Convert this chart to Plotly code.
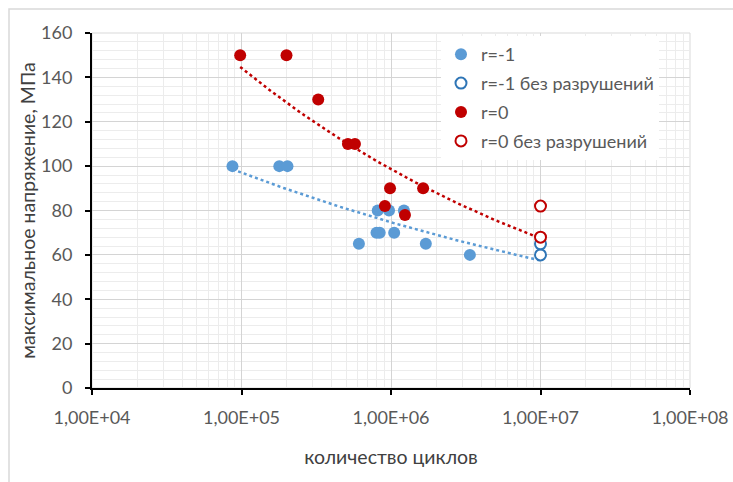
import numpy as np
import plotly.graph_objects as go

# Fatigue test results: number of cycles vs. maximum stress (MPa)
cycles_rm1 = [8.7e4, 1.79e5, 2.03e5, 6.1e5, 8.0e5, 8.4e5, 1.05e6, 8.15e5, 9.7e5, 1.22e6, 1.71e6, 3.37e6]
stress_rm1 = [100, 100, 100, 65, 70, 70, 70, 80, 80, 80, 65, 60]

cycles_rm1_runout = [1e7, 1e7]
stress_rm1_runout = [60, 65]

cycles_r0 = [9.8e4, 2.0e5, 3.26e5, 5.15e5, 5.74e5, 9.85e5, 1.64e6, 9.1e5, 1.24e6]
stress_r0 = [150, 150, 130, 110, 110, 90, 90, 82, 78]

cycles_r0_runout = [1e7, 1e7]
stress_r0_runout = [82, 68]

x_tickvals = [1e4, 1e5, 1e6, 1e7, 1e8]
x_ticktext = ["1,00E+04", "1,00E+05", "1,00E+06", "1,00E+07", "1,00E+08"]

BLUE = "#5B9BD5"
BLUE_DARK = "#2E75B6"
RED = "#C00000"
TEXT = "#595959"
FONT = "Lato, 'Open Sans', sans-serif"


def power_trend(xs, ys, n=120):
    """Least-squares power fit y = a * x^b (as a spreadsheet power trendline)."""
    lx, ly = np.log(xs), np.log(ys)
    b, a = np.polyfit(lx, ly, 1)
    xx = np.logspace(np.log10(min(xs)), np.log10(max(xs)), n)
    return xx, np.exp(a) * xx ** b


fig = go.Figure()

# trendlines (fitted on all points of each stress ratio, including run-outs)
tx, ty = power_trend(cycles_rm1 + cycles_rm1_runout, stress_rm1 + stress_rm1_runout)
fig.add_trace(go.Scatter(x=tx, y=ty, mode="lines", showlegend=False, hoverinfo="skip",
                         line=dict(color=BLUE, width=2.5, dash="dot")))
tx, ty = power_trend(cycles_r0 + cycles_r0_runout, stress_r0 + stress_r0_runout)
fig.add_trace(go.Scatter(x=tx, y=ty, mode="lines", showlegend=False, hoverinfo="skip",
                         line=dict(color=RED, width=2.5, dash="dot")))

fig.add_trace(go.Scatter(x=cycles_rm1, y=stress_rm1, mode="markers", name="r=-1",
                         legendgroup="a",
                         marker=dict(color=BLUE, size=12, line=dict(width=0))))
fig.add_trace(go.Scatter(x=cycles_rm1_runout, y=stress_rm1_runout, mode="markers",
                         name="r=-1 без разрушений", legendgroup="b",
                         marker=dict(color="white", size=11, line=dict(color=BLUE_DARK, width=2))))
fig.add_trace(go.Scatter(x=cycles_r0, y=stress_r0, mode="markers", name="r=0",
                         legendgroup="c",
                         marker=dict(color=RED, size=12, line=dict(width=0))))
fig.add_trace(go.Scatter(x=cycles_r0_runout, y=stress_r0_runout, mode="markers",
                         name="r=0 без разрушений", legendgroup="d",
                         marker=dict(color="white", size=11, line=dict(color=RED, width=2))))

# minor grid positions on the log axis (2..9 in each decade)
minor_x = [m * 10 ** d for d in range(4, 8) for m in range(2, 10)]

fig.update_layout(
    width=733, height=482,
    margin=dict(l=92, r=43, t=33, b=94),
    paper_bgcolor="white", plot_bgcolor="white",
    font=dict(family=FONT, size=18, color=TEXT),
    legend=dict(x=0.5836, y=1 - 3 / 355, xanchor="left", yanchor="top", bgcolor="white",
                font=dict(family=FONT, size=18, color=TEXT), tracegroupgap=2.5,
                borderwidth=0),
    xaxis=dict(
        type="log", range=[4, 8], automargin=False,
        tickmode="array", tickvals=x_tickvals, ticktext=x_ticktext,
        ticks="outside", ticklen=5, tickcolor="black", tickwidth=1.5,
        showline=True, linecolor="black", linewidth=2,
        showgrid=True, gridcolor="#D4D4D4", gridwidth=1.3,
        minor=dict(tickmode="array", tickvals=minor_x, showgrid=True,
                   gridcolor="#ECECEC", gridwidth=1.3, ticks=""),
        ticklabelstandoff=7,
        title=dict(text="количество циклов", standoff=24,
                   font=dict(family=FONT, size=19.5, color="#404040")),
        zeroline=False,
    ),
    yaxis=dict(
        range=[0, 160], tick0=0, dtick=20, automargin=False,
        ticks="outside", ticklen=5, tickcolor="black", tickwidth=1.5,
        showline=True, linecolor="black", linewidth=2,
        showgrid=True, gridcolor="#D4D4D4", gridwidth=1.3,
        minor=dict(dtick=4, showgrid=True, gridcolor="#ECECEC", gridwidth=1.3, ticks=""),
        ticklabelstandoff=9,
        title=dict(text="максимальное напряжение, МПа", standoff=0,
                   font=dict(family=FONT, size=19.5, color="#404040")),
        zeroline=False,
    ),
    shapes=[
        # plot-area frame on the right and top
        dict(type="rect", xref="paper", yref="paper", x0=0, x1=1, y0=0, y1=1,
             line=dict(color="#D9D9D9", width=1), layer="below"),
        # chart-area border
        dict(type="rect", xref="paper", yref="paper", x0=-0.1388, x1=1.3, y0=-0.4, y1=1.0676,
             line=dict(color="#D9D9D9", width=1.5), layer="below"),
    ],
)

fig.write_html("out.html")
